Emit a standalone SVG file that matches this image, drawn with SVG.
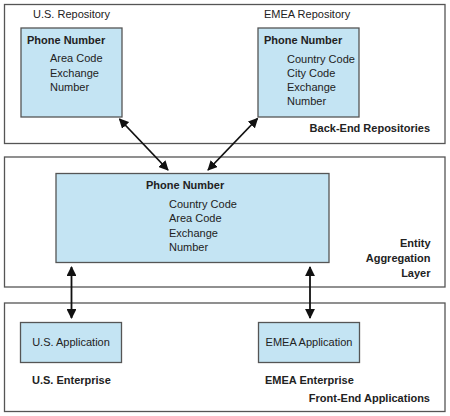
<svg xmlns="http://www.w3.org/2000/svg" width="450" height="416" viewBox="0 0 450 416">
<style>
.layer{fill:#fff;stroke:#555;stroke-width:1.3}
.box{fill:#c4e4f3;stroke:#555;stroke-width:1.3}
text{font-family:"Liberation Sans",Arial,sans-serif;font-size:11px;fill:#222}
.b{font-weight:bold}
.r{text-anchor:end}
.m{text-anchor:middle}
.conn{stroke:#111;stroke-width:1.8;fill:none;marker-start:url(#ah);marker-end:url(#ah)}
</style>
<defs>
<marker id="ah" viewBox="0 0 10 10" refX="9" refY="5" markerWidth="5.5" markerHeight="5.5" orient="auto-start-reverse" markerUnits="strokeWidth">
<path d="M0,0 L10,5 L0,10 Z" fill="#111"/>
</marker>
</defs>
<g id="backend">
<rect class="layer" x="4.5" y="4.5" width="440.5" height="139"/>
<text x="33" y="18">U.S. Repository</text>
<text x="264" y="18">EMEA Repository</text>
<text class="b r" x="430" y="132">Back-End Repositories</text>
</g>
<g id="us-repo">
<rect class="box" x="21" y="28" width="101" height="89"/>
<text class="b" x="27" y="44">Phone Number</text>
<text x="50" y="62">Area Code</text>
<text x="50" y="76.5">Exchange</text>
<text x="50" y="91">Number</text>
</g>
<g id="emea-repo">
<rect class="box" x="258" y="28" width="101" height="89"/>
<text class="b" x="264" y="44">Phone Number</text>
<text x="287" y="62.5">Country Code</text>
<text x="287" y="76.5">City Code</text>
<text x="287" y="90.5">Exchange</text>
<text x="287" y="104.5">Number</text>
</g>
<g id="aggregation">
<rect class="layer" x="4.5" y="157" width="440.5" height="130"/>
<text class="b r" x="430.5" y="247">Entity</text>
<text class="b r" x="430.5" y="262">Aggregation</text>
<text class="b r" x="430.5" y="276.5">Layer</text>
</g>
<g id="agg-phone">
<rect class="box" x="56" y="173.5" width="273" height="89"/>
<text class="b" x="146" y="189">Phone Number</text>
<text x="169" y="207.5">Country Code</text>
<text x="169" y="222">Area Code</text>
<text x="169" y="236.5">Exchange</text>
<text x="169" y="251">Number</text>
</g>
<g id="frontend">
<rect class="layer" x="4.5" y="303" width="440.5" height="108.5"/>
<text class="b" x="32" y="383.5">U.S. Enterprise</text>
<text class="b" x="265" y="383.5">EMEA Enterprise</text>
<text class="b r" x="430" y="402">Front-End Applications</text>
</g>
<g id="us-app">
<rect class="box" x="20.5" y="322.5" width="101" height="40"/>
<text class="m" x="71" y="346">U.S. Application</text>
</g>
<g id="emea-app">
<rect class="box" x="258.5" y="322.5" width="101" height="40"/>
<text class="m" x="309" y="346">EMEA Application</text>
</g>
<g id="connectors">
<line class="conn" x1="119.5" y1="119" x2="168" y2="170"/>
<line class="conn" x1="257.5" y1="118.5" x2="208" y2="170"/>
<line class="conn" x1="71.5" y1="267" x2="71.5" y2="318"/>
<line class="conn" x1="310" y1="267" x2="310" y2="318"/>
</g>
</svg>
